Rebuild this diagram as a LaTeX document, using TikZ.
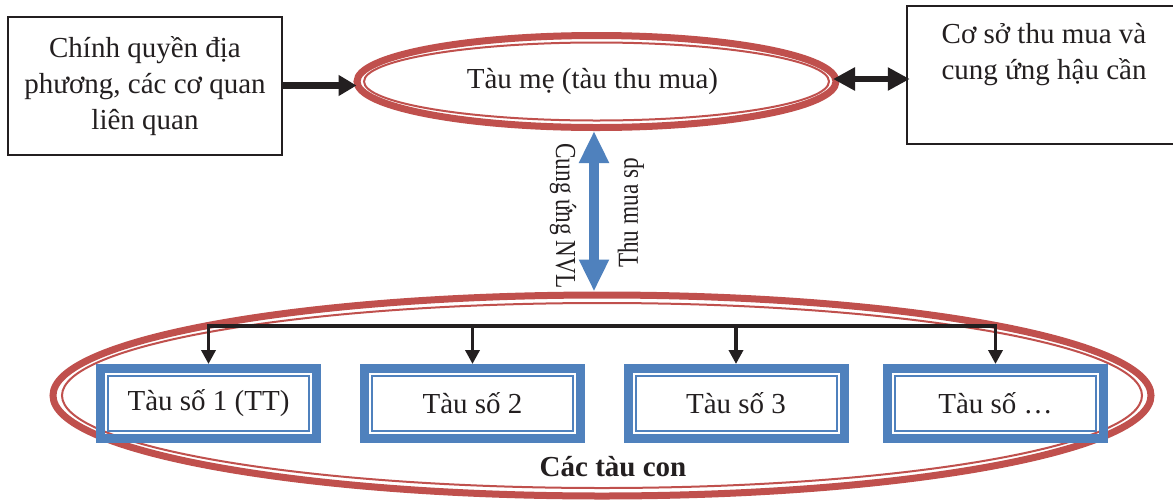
\documentclass[tikz,border=0pt]{standalone}
\usepackage{fontspec}
\setmainfont{Liberation Serif}
\usetikzlibrary{arrows.meta,shapes.geometric}
\definecolor{cred}{HTML}{C0504D}
\definecolor{cblue}{HTML}{4F81BD}
\definecolor{cblack}{HTML}{231F20}
\begin{document}
\begin{tikzpicture}[x=1pt,y=-1pt,
  every node/.style={font=\fontsize{29}{36}\selectfont, text=cblack},
  plainbox/.style={rectangle, draw=cblack, line width=1.5pt, inner sep=0pt, align=center},
  bigell/.style={ellipse, draw=cred, line width=7pt, inner sep=0pt},
  thinell/.style={draw=cred, line width=2pt},
  shipbox/.style={rectangle, draw=cblue, line width=9pt, minimum width=216pt, minimum height=70pt, inner sep=0pt},
  shipinner/.style={draw=cblue, line width=2pt},
  blackarrow/.style={draw=cblack, line width=7pt, -{Triangle[length=18pt,width=20pt]}},
  dblarrow/.style={draw=cblack, line width=6.5pt, {Triangle[length=22pt,width=22pt]}-{Triangle[length=22pt,width=22pt]}},
  busline/.style={draw=cblack, line width=4pt},
  droparrow/.style={draw=cblack, line width=3.5pt, -{Triangle[length=14pt,width=14pt]}},
  bluearrow/.style={draw=cblue, line width=10pt, {Triangle[length=32pt,width=28pt]}-{Triangle[length=32pt,width=28pt]}},
  sidelabel/.style={inner sep=0pt},
]
\fill[white] (0,0) rectangle (1173,499);
\useasboundingbox (0,0) rectangle (1173,499);

% top boxes
\node[plainbox, minimum width=274pt, minimum height=138pt] (lbox) at (145,86)
  {Chính quyền địa\\phương, các cơ quan\\liên quan};
\node[plainbox, minimum width=274pt, minimum height=138pt] (rbox) at (1044,75)
  {Cơ sở thu mua và\\cung ứng hậu cần\\\strut};

% mother ship
\node[bigell, minimum width=479pt, minimum height=92pt] (top) at (596.5,81.5)
  {\hspace*{-8pt}Tàu mẹ (tàu thu mua)};
\draw[thinell] (top.center) ellipse [x radius=232.5, y radius=39];

% child ships ellipse
\node[bigell, minimum width=1098pt, minimum height=201pt] (bot) at (602,395.5) {};
\draw[thinell] (bot.center) ellipse [x radius=540, y radius=92.5];
\node (lbl) at (613,467) {\textbf{Các tàu con}};

% ship boxes
\node[shipbox] (b1) at (208.5,403.5) {\raisebox{5pt}{Tàu số 1 (TT)}};
\node[shipbox] (b2) at (472.5,403.5) {Tàu số 2};
\node[shipbox] (b3) at (736,403.5) {Tàu số 3};
\node[shipbox] (b4) at (995.5,403.5) {Tàu số …};
\foreach \n in {b1,b2,b3,b4}
  \draw[shipinner] ([xshift=-100.5pt,yshift=-27.5pt]\n.center) rectangle ([xshift=100.5pt,yshift=27.5pt]\n.center);

% bus
\coordinate (busy) at (0,325.5);
\coordinate (busL) at (b1.north |- busy);
\coordinate (busR) at (b4.north |- busy);
\draw[busline] ([xshift=-1.75pt]busL) -- ([xshift=1.75pt]busR);
\foreach \n in {b1,b2,b3,b4}
  \draw[droparrow] (\n.north |- busy) -- (\n.north);

% connectors between top elements
\draw[blackarrow] (lbox.east |- 0,85.5) -- ([xshift=3pt]top.west |- 0,85.5);
\coordinate (ra) at (833,79);
\draw[dblarrow] (ra) -- ([xshift=3.5pt]ra -| rbox.west);

% vertical blue arrow
\coordinate (vx) at (594,0);
\draw[bluearrow] (vx |- top.south) -- (vx |- bot.north);
\node[sidelabel, rotate=-90] (lcung) at (563,216) {\scalebox{0.8}[1]{Cung ứng NVL}};
\node[sidelabel, rotate=90] (lthu) at (631,213) {\scalebox{0.8}[1]{Thu mua sp}};
\end{tikzpicture}
\end{document}
